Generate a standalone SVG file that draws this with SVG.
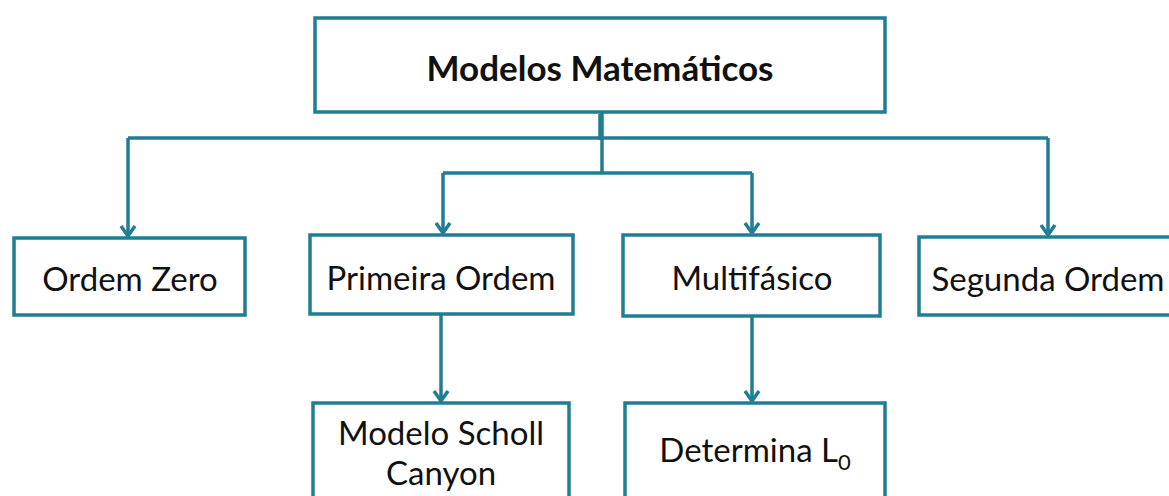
<svg xmlns="http://www.w3.org/2000/svg" width="1169" height="496" viewBox="0 0 1169 496">
<style>
.box{fill:#fff;stroke:#1f7d94;stroke-width:3.5}
.ln{fill:none;stroke:#1f7d94;stroke-width:3.5}
.t{font-family:Lato,"Open Sans","Liberation Sans",sans-serif;font-size:33px;fill:#111;text-anchor:middle}
.tb{font-weight:bold;font-size:35px}
</style>
<defs>
<marker id="arr" markerWidth="14" markerHeight="18" refX="12" refY="9" orient="auto" markerUnits="userSpaceOnUse" viewBox="0 0 14 18">
<path d="M2,2 L12,9 L2,16" fill="none" stroke="#1f7d94" stroke-width="3.5"/>
</marker>
</defs>
<rect width="1169" height="496" fill="#fff"/>
<g id="connectors">
<path class="ln" d="M602,112 V173"/>
<path class="ln" d="M600,114 V140" stroke-width="6"/>
<path class="ln" d="M128,138 H1048"/>
<path class="ln" d="M128,138 V236" marker-end="url(#arr)"/>
<path class="ln" d="M1048,138 V235" marker-end="url(#arr)"/>
<path class="ln" d="M443,173 H752"/>
<path class="ln" d="M443,173 V233" marker-end="url(#arr)"/>
<path class="ln" d="M752,173 V233" marker-end="url(#arr)"/>
<path class="ln" d="M441,315 V401" marker-end="url(#arr)"/>
<path class="ln" d="M752,316 V401" marker-end="url(#arr)"/>
</g>
<g id="n-top"><rect class="box" x="315" y="18" width="570" height="94"/><text class="t tb" x="600" y="81">Modelos Matemáticos</text></g>
<g id="n-zero"><rect class="box" x="14" y="238" width="231" height="77"/><text class="t" x="130" y="291" font-size="35">Ordem Zero</text></g>
<g id="n-primeira"><rect class="box" x="310" y="235" width="263" height="79"/><text class="t" x="441" y="290">Primeira Ordem</text></g>
<g id="n-multi"><rect class="box" x="623" y="235" width="257" height="81"/><text class="t" x="752" y="290">Multifásico</text></g>
<g id="n-segunda"><rect class="box" x="919" y="237" width="262" height="78"/><text class="t" x="1048" y="291">Segunda Ordem</text></g>
<g id="n-scholl"><rect class="box" x="313" y="403" width="256" height="100"/><text class="t" x="441" y="445">Modelo Scholl</text><text class="t" x="441" y="485">Canyon</text></g>
<g id="n-determina"><rect class="box" x="625" y="403" width="260" height="100"/><text class="t" x="755" y="462">Determina L<tspan font-size="22" dy="8">0</tspan></text></g>
</svg>
